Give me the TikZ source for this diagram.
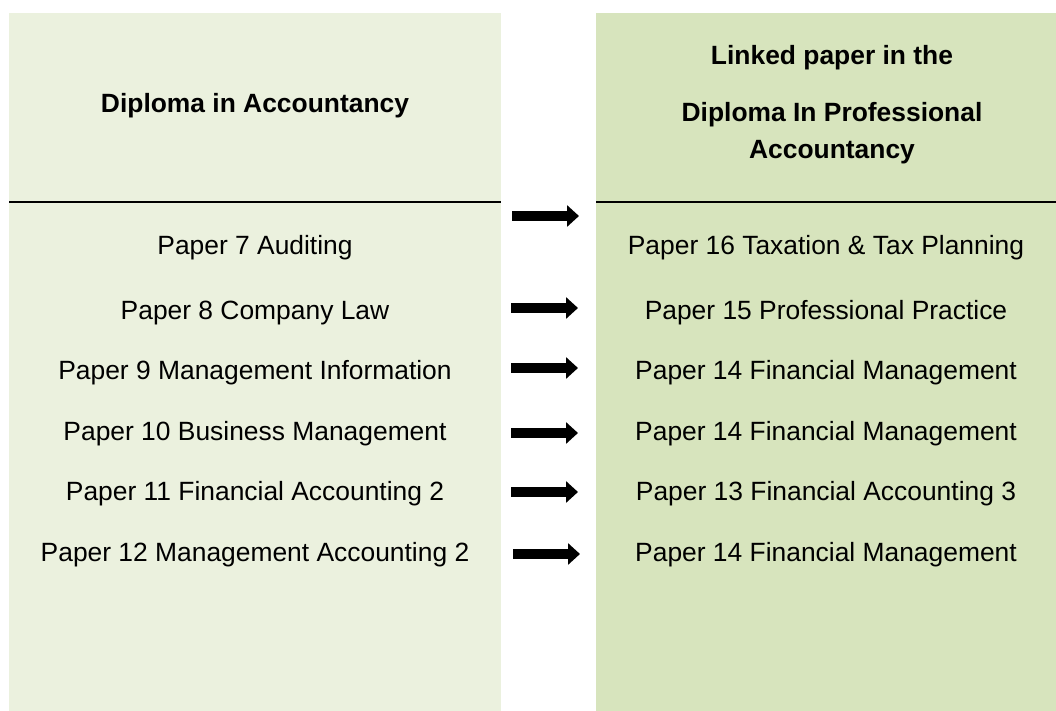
\documentclass[tikz,border=0pt]{standalone}
\usepackage{fontspec}
\setmainfont{Liberation Sans}
\usetikzlibrary{arrows.meta}
\definecolor{leftgreen}{RGB}{235,241,222}
\definecolor{rightgreen}{RGB}{215,228,189}
\begin{document}
\begin{tikzpicture}[x=1pt,y=-1pt,
  txt/.style={font=\fontsize{26.4}{30}\selectfont, inner sep=0pt, anchor=base},
  head/.style={txt, font=\fontsize{26.4}{30}\selectfont\bfseries},
  rule/.style={line width=2.5pt},
  bigarrow/.style={line width=10pt, -{Triangle[length=12pt,width=21pt]}}]
\useasboundingbox (0,0) rectangle (1056,711);
\fill[white] (0,0) rectangle (1056,711);
% panels
\fill[leftgreen] (9,13) rectangle (501,711);
\fill[rightgreen] (596,13) rectangle (1056,711);
% rules
\coordinate (ll) at (9,202); \coordinate (lr) at (501,202);
\coordinate (rl) at (596,202); \coordinate (rr) at (1056,202);
\draw[rule] (ll) -- (lr);
\draw[rule] (rl) -- (rr);
% headers
\node[head] (hl) at (255,112.7) {Diploma in Accountancy};
\node[head] (hr1) at (832,65) {Linked paper in the};
\node[head] (hr2) at (832,121.7) {Diploma In Professional};
\node[head] (hr3) at (832,159) {Accountancy};
% left column
\node[txt] (l1) at (255,254.5) {Paper 7 Auditing};
\node[txt] (l2) at (255,319.5) {Paper 8 Company Law};
\node[txt] (l3) at (255,379.5) {Paper 9 Management Information};
\node[txt] (l4) at (255,440.5) {Paper 10 Business Management};
\node[txt] (l5) at (255,500.5) {Paper 11 Financial Accounting 2};
\node[txt] (l6) at (255,561.5) {Paper 12 Management Accounting 2};
% right column
\node[txt] (r1) at (826,254.5) {Paper 16 Taxation \& Tax Planning};
\node[txt] (r2) at (826,319.5) {Paper 15 Professional Practice};
\node[txt] (r3) at (826,379.5) {Paper 14 Financial Management};
\node[txt] (r4) at (826,440.5) {Paper 14 Financial Management};
\node[txt] (r5) at (826,500.5) {Paper 13 Financial Accounting 3};
\node[txt] (r6) at (826,561.5) {Paper 14 Financial Management};
% arrows
\coordinate (a1s) at (512,216); \coordinate (a1e) at (579,216);
\coordinate (a2s) at (511,308); \coordinate (a2e) at (578,308);
\coordinate (a3s) at (511,368); \coordinate (a3e) at (578,368);
\coordinate (a4s) at (511,433); \coordinate (a4e) at (578,433);
\coordinate (a5s) at (511,492); \coordinate (a5e) at (578,492);
\coordinate (a6s) at (513,554); \coordinate (a6e) at (580,554);
\foreach \i in {1,...,6} \draw[bigarrow] (a\i s) -- (a\i e);
\end{tikzpicture}
\end{document}
